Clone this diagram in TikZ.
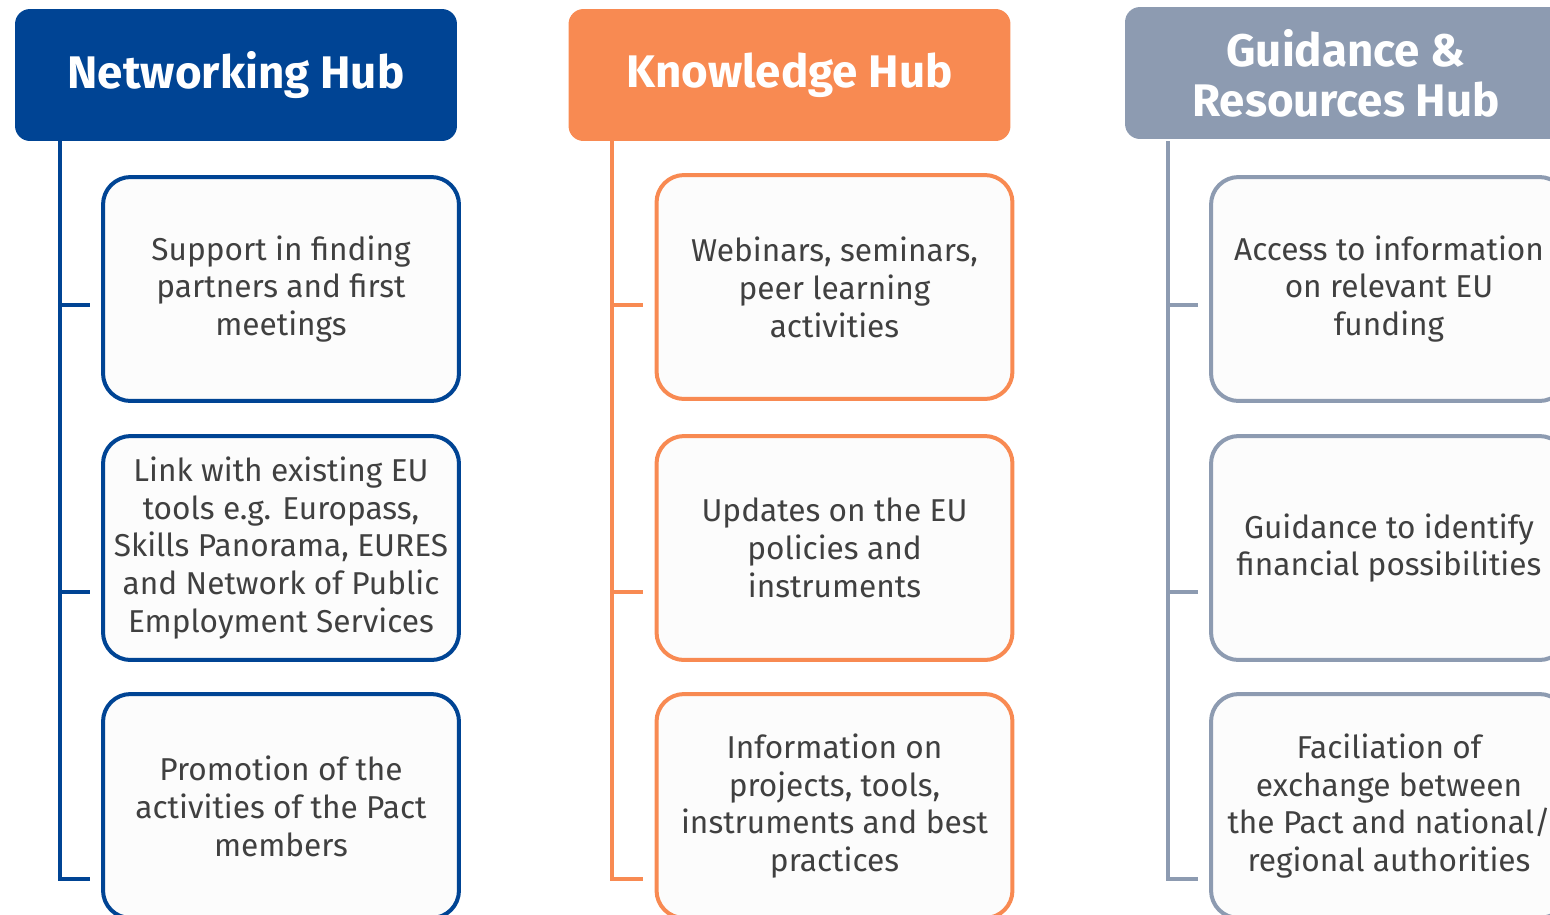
\documentclass[tikz,border=0pt]{standalone}
\usepackage{fontspec}
\setmainfont{Fira Sans}
\usetikzlibrary{positioning}

\definecolor{hubblue}{RGB}{0,68,148}
\definecolor{huborange}{RGB}{248,138,82}
\definecolor{hubgrey}{RGB}{141,155,177}
\definecolor{boxfill}{RGB}{252,252,252}
\definecolor{boxtext}{RGB}{64,64,64}

\tikzset{
  hubhead/.style={fill=#1, rounded corners=0.3cm, minimum width=8.84cm, minimum height=2.64cm,
    text=white, align=center, font=\fontsize{26}{28.4}\selectfont\bfseries},
  itembox/.style={draw=#1, line width=0.08cm, fill=boxfill, rounded corners=0.55cm,
    minimum width=7.12cm, minimum height=4.48cm, text=boxtext, align=center,
    font=\fontsize{18}{21.6}\selectfont},
  hubline/.style={draw=#1, line width=0.08cm}
}

\begin{document}
\begin{tikzpicture}[x=0.02cm,y=-0.02cm]
  \useasboundingbox (0,0) rectangle (1550,914);

  % networking hub
  \node[hubhead=hubblue] (nethub) at (236,75) {Networking Hub};
  \node[itembox=hubblue] (net1) at (281,289) {Support in finding\\partners and first\\meetings};
  \node[itembox=hubblue] (net2) at (281,548) {Link with existing EU\\tools e.g. Europass,\\Skills Panorama, EURES\\and Network of Public\\Employment Services};
  \node[itembox=hubblue] (net3) at (281,806) {Promotion of the\\activities of the Pact\\members};
  \coordinate (nettop) at (60,141);
  \coordinate (netend1) at (90,305);
  \coordinate (netend2) at (90,592);
  \coordinate (netend3) at (90,879);
  \draw[hubline=hubblue] (nettop) |- (netend3);
  \draw[hubline=hubblue] (nettop |- netend1) -- (netend1);
  \draw[hubline=hubblue] (nettop |- netend2) -- (netend2);

  % knowledge hub
  \node[hubhead=huborange] (knowhub) at (789.5,75) {Knowledge Hub};
  \node[itembox=huborange] (know1) at (834.5,287) {Webinars, seminars,\\peer learning\\activities};
  \node[itembox=huborange] (know2) at (834.5,548) {Updates on the EU\\policies and\\instruments};
  \node[itembox=huborange] (know3) at (834.5,806) {Information on\\projects, tools,\\instruments and best\\practices};
  \coordinate (knowtop) at (612,141);
  \coordinate (knowend1) at (643,305);
  \coordinate (knowend2) at (643,592);
  \coordinate (knowend3) at (643,879);
  \draw[hubline=huborange] (knowtop) |- (knowend3);
  \draw[hubline=huborange] (knowtop |- knowend1) -- (knowend1);
  \draw[hubline=huborange] (knowtop |- knowend2) -- (knowend2);

  % guidance & resources hub
  \node[hubhead=hubgrey] (guidehub) at (1346,73) {Guidance \&\\Resources Hub};
  \node[itembox=hubgrey] (guide1) at (1389,289) {Access to information\\on relevant EU\\funding};
  \node[itembox=hubgrey] (guide2) at (1389,548) {Guidance to identify\\financial possibilities};
  \node[itembox=hubgrey] (guide3) at (1389,806) {Faciliation of\\exchange between\\the Pact and national/\\regional authorities};
  \coordinate (guidetop) at (1168,141);
  \coordinate (guideend1) at (1198,305);
  \coordinate (guideend2) at (1198,592);
  \coordinate (guideend3) at (1198,879);
  \draw[hubline=hubgrey] (guidetop) |- (guideend3);
  \draw[hubline=hubgrey] (guidetop |- guideend1) -- (guideend1);
  \draw[hubline=hubgrey] (guidetop |- guideend2) -- (guideend2);
\end{tikzpicture}
\end{document}
